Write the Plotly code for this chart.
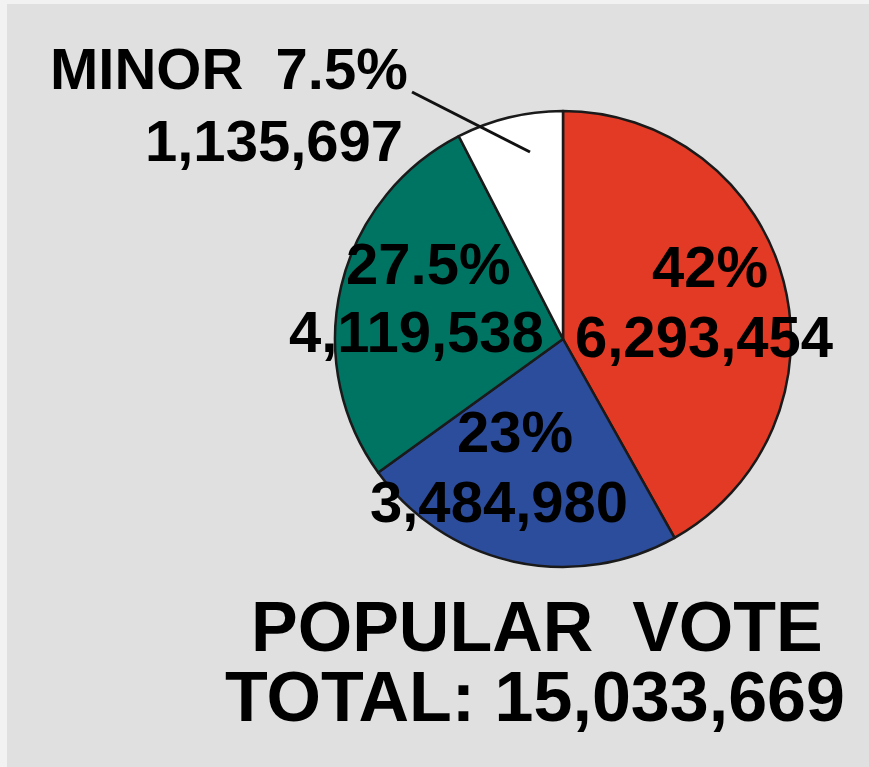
import plotly.graph_objects as go

W, H = 869, 767

# Data
parties = ["Democratic", "Republican", "Progressive", "Minor"]
votes = [6293454, 3484980, 4119538, 1135697]
pct_labels = ["42%", "23%", "27.5%", "MINOR  7.5%"]
vote_labels = ["6,293,454", "3,484,980", "4,119,538", "1,135,697"]
colors = ["#e23a24", "#2c4c9c", "#007463", "#ffffff"]
title_lines = ["POPULAR  VOTE", "TOTAL: 15,033,669"]

FONT = "Liberation Sans, Arial, sans-serif"

def px(x):
    return x / W

def py(y):
    return 1 - y / H

fig = go.Figure()
fig.add_trace(go.Pie(
    labels=parties,
    values=votes,
    sort=False,
    direction="clockwise",
    rotation=0,
    textinfo="none",
    hoverinfo="label+value+percent",
    marker=dict(colors=colors, line=dict(color="#1a1a1a", width=2.5)),
    domain=dict(x=[px(335), px(791)], y=[py(568), py(110)]),
    showlegend=False,
))

# label positions (pixel centers) per slice: (pct x, pct y, vote x, vote y, anchor)
pos = [
    (710, 266, 704, 336, "center"),
    (515, 431, 499, 501, "center"),
    (428, 263, 416, 331, "center"),
    (410, 68, 405, 140, "right"),
]
annos = []
for i in range(len(parties)):
    x1, y1, x2, y2, anc = pos[i]
    annos.append(dict(x=px(x1), y=py(y1), xref="paper", yref="paper",
                      text="<b>%s</b>" % pct_labels[i], showarrow=False,
                      xanchor=anc, yanchor="middle",
                      font=dict(family=FONT, size=58, color="#000000")))
    annos.append(dict(x=px(x2), y=py(y2), xref="paper", yref="paper",
                      text="<b>%s</b>" % vote_labels[i], showarrow=False,
                      xanchor=anc, yanchor="middle",
                      font=dict(family=FONT, size=58, color="#000000")))

annos.append(dict(x=px(537), y=py(627), xref="paper", yref="paper",
                  text="<b>%s</b>" % title_lines[0], showarrow=False,
                  xanchor="center", yanchor="middle",
                  font=dict(family=FONT, size=70, color="#000000")))
annos.append(dict(x=px(535), y=py(697), xref="paper", yref="paper",
                  text="<b>%s</b>" % title_lines[1], showarrow=False,
                  xanchor="center", yanchor="middle",
                  font=dict(family=FONT, size=70, color="#000000")))

shapes = [
    dict(type="rect", xref="paper", yref="paper", x0=px(7), x1=1, y0=0, y1=py(4),
         fillcolor="#e0e0e0", line=dict(width=0), layer="below"),
    dict(type="line", xref="paper", yref="paper", x0=px(412), y0=py(92),
         x1=px(530), y1=py(152), line=dict(color="#111111", width=3)),
]

fig.update_layout(
    width=W, height=H,
    margin=dict(l=0, r=0, t=0, b=0),
    paper_bgcolor="#f2f2f2",
    plot_bgcolor="#e0e0e0",
    annotations=annos,
    shapes=shapes,
)

fig.write_html("out.html")
